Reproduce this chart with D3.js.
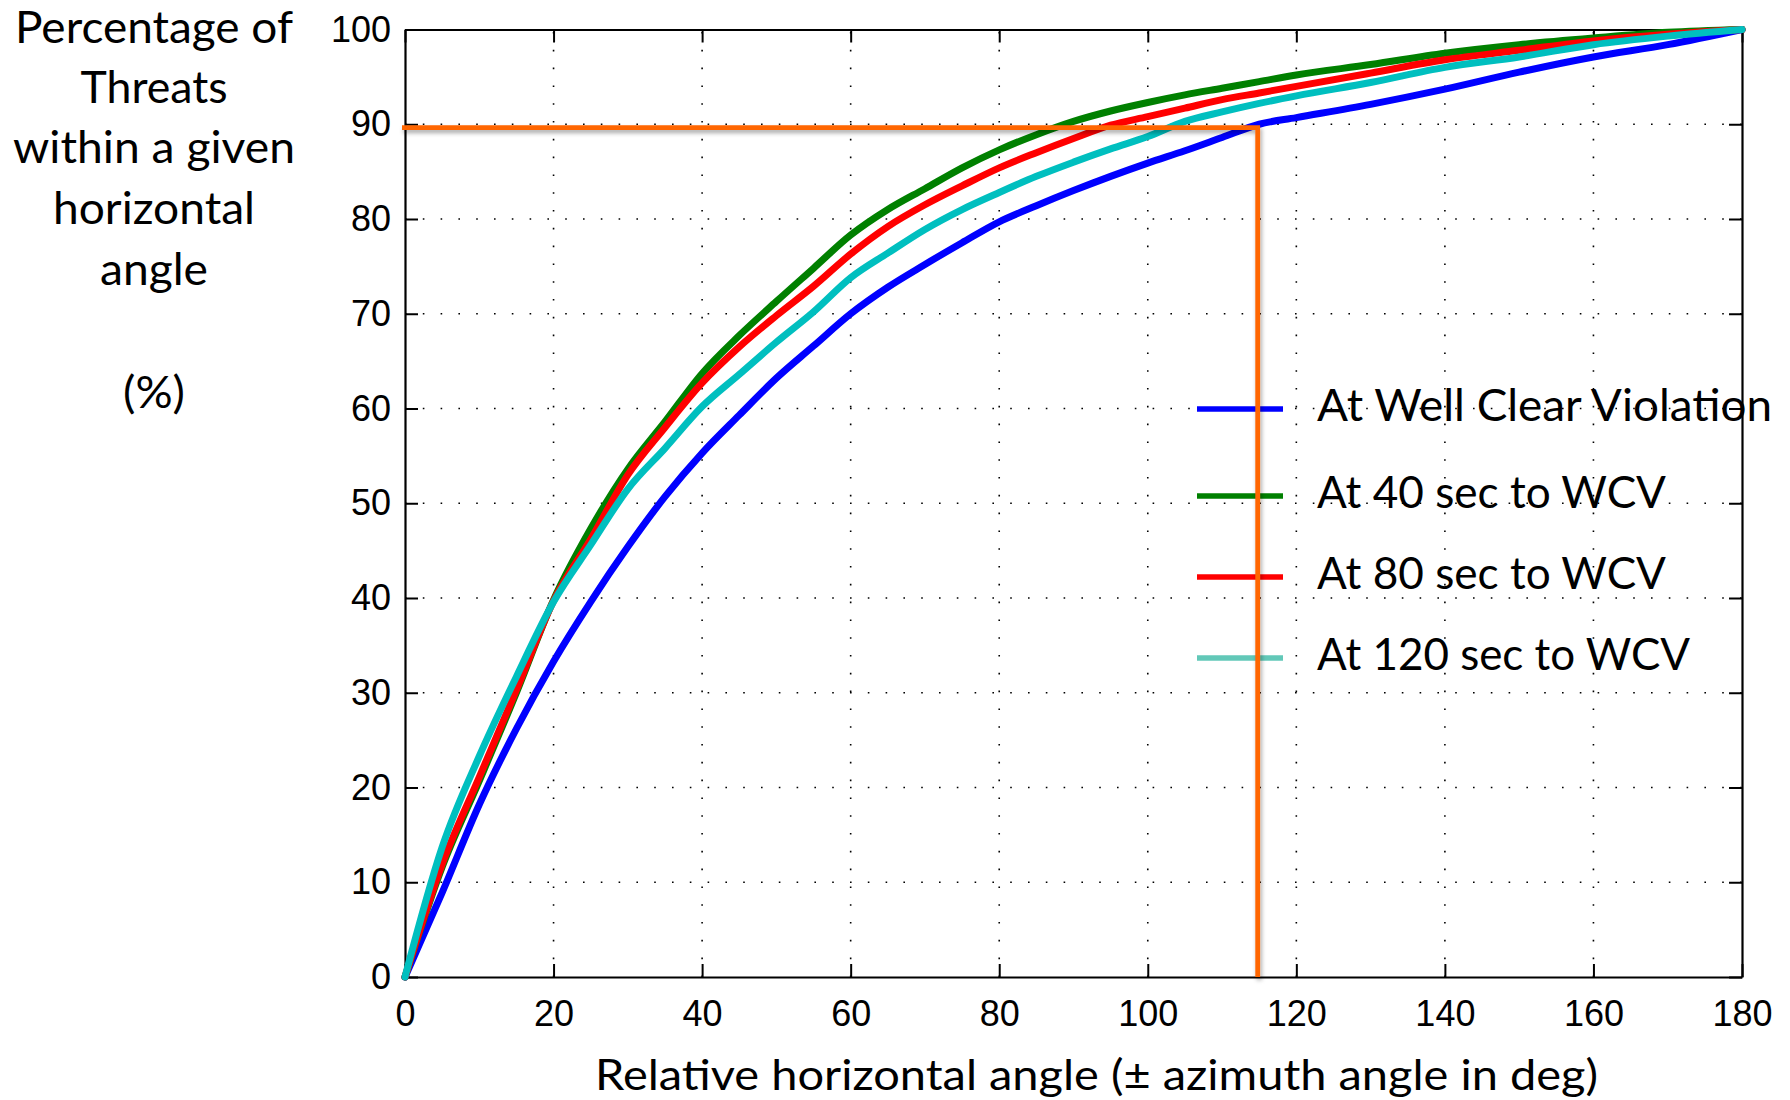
<!DOCTYPE html>
<html>
<head>
<meta charset="utf-8">
<script src="https://cdn.jsdelivr.net/npm/d3@7"></script>
<style>
html,body{margin:0;padding:0;background:#fff;}
svg{display:block;}
</style>
</head>
<body>
<svg id="chart" width="1790" height="1100"></svg>
<script>
// ---------- DATA ----------
const angles = [0,5,10,15,20,25,30,35,40,45,50,55,60,65,70,75,80,85,90,95,100,105,110,115,120,130,140,150,160,170,180];
const atWCV   = [0,8.9,18.2,26.2,33.3,39.6,45.4,50.7,55.3,59.3,63.2,66.6,70.0,72.8,75.2,77.5,79.7,81.4,83.0,84.5,85.9,87.2,88.6,90.0,90.7,92.1,93.7,95.5,97.1,98.4,100];
const at40sec = [0,11.6,20.7,30.0,39.8,47.3,53.6,58.6,63.7,67.7,71.3,74.8,78.3,81.0,83.2,85.4,87.3,88.9,90.3,91.4,92.3,93.1,93.8,94.5,95.2,96.3,97.5,98.4,99.1,99.7,100];
const at80sec = [0,11.9,21.1,30.3,39.7,46.2,53.0,58.0,62.7,66.5,69.8,72.9,76.3,79.2,81.5,83.5,85.4,87.0,88.5,89.9,90.8,91.7,92.6,93.3,94.0,95.4,96.8,97.8,98.8,99.5,100];
const at120sec= [0,13.7,23.3,31.7,39.6,45.6,51.5,55.8,60.2,63.6,67.0,70.2,73.8,76.4,78.9,81.0,82.8,84.5,86.0,87.4,88.7,90.3,91.3,92.2,93.0,94.4,96.0,97.1,98.4,99.3,100];
const seriesNames = ["At Well Clear Violation","At 40 sec to WCV","At 80 sec to WCV","At 120 sec to WCV"];
const seriesColors = ["#0000ff","#008000","#ff0000","#00bfbf"];
const legendColors = ["#0000ff","#008000","#ff0000","#62c8b8"];
const xTicks = [0,20,40,60,80,100,120,140,160,180];
const yTicks = [0,10,20,30,40,50,60,70,80,90,100];
const markerAngle = 114.8;   // orange guide: angle covering 90% at WCV
const markerPct = 89.65;
const yTitleLines = ["Percentage of","Threats","within a given","horizontal","angle","(%)"];
const xTitle = "Relative horizontal angle (\u00B1 azimuth angle in deg)";

// ---------- LAYOUT ----------
const svg = d3.select("#chart");
svg.append("rect").attr("width",1790).attr("height",1100).attr("fill","#fff");
const x = d3.scaleLinear().domain([0,180]).range([405,1742]);
const y = d3.scaleLinear().domain([0,100]).range([977,29.5]);
const tickFont = "'Liberation Sans', Arial, Helvetica, sans-serif";
const textFont = "Lato, 'Open Sans', sans-serif";

const defs = svg.append("defs");
const f = defs.append("filter").attr("id","shadow").attr("x","-5%").attr("y","-5%").attr("width","110%").attr("height","110%");
f.append("feDropShadow").attr("dx",1.5).attr("dy",3).attr("stdDeviation",2)
  .attr("flood-color","#000").attr("flood-opacity",0.35);

// grid
const grid = svg.append("g");
grid.selectAll("line.gx").data(xTicks.filter(d=>d>0&&d<180)).join("line")
  .attr("x1",d=>x(d)).attr("x2",d=>x(d)).attr("y1",y(0)).attr("y2",y(100))
  .attr("stroke","#000").attr("stroke-width",1.6).attr("stroke-dasharray","1.6 16.2");
grid.selectAll("line.gy").data(yTicks.filter(d=>d>0&&d<100)).join("line")
  .attr("y1",d=>y(d)).attr("y2",d=>y(d)).attr("x1",x(0)).attr("x2",x(180))
  .attr("stroke","#000").attr("stroke-width",1.6).attr("stroke-dasharray","1.6 16.2");

// axes
function styleAxis(g){
  g.selectAll("path.domain").attr("stroke","#000").attr("stroke-width",2.2);
  g.selectAll(".tick line").attr("stroke","#000").attr("stroke-width",2);
  g.selectAll(".tick text").attr("fill","#000").style("font-family",tickFont).style("font-size","36px");
}
svg.append("g").attr("transform",`translate(0,${y(0)})`)
  .call(d3.axisBottom(x).tickValues(xTicks).tickFormat(d3.format("d")).tickSize(-13).tickSizeOuter(0).tickPadding(23))
  .call(styleAxis);
svg.append("g").attr("transform",`translate(0,${y(100)})`)
  .call(d3.axisTop(x).tickValues(xTicks).tickFormat("").tickSize(-13).tickSizeOuter(0))
  .call(styleAxis);
svg.append("g").attr("transform",`translate(${x(0)},0)`)
  .call(d3.axisLeft(y).tickValues(yTicks).tickFormat(d3.format("d")).tickSize(-13).tickSizeOuter(0).tickPadding(14))
  .call(styleAxis);
svg.append("g").attr("transform",`translate(${x(180)},0)`)
  .call(d3.axisRight(y).tickValues(yTicks).tickFormat("").tickSize(-13).tickSizeOuter(0))
  .call(styleAxis);

// curves
const series = [atWCV, at40sec, at80sec, at120sec];
const line = d3.line().x(d=>x(d[0])).y(d=>y(d[1])).curve(d3.curveMonotoneX);
svg.append("g").selectAll("path").data(series).join("path")
  .attr("d",s=>line(angles.map((a,i)=>[a,s[i]])))
  .attr("fill","none").attr("stroke",(s,i)=>seriesColors[i])
  .attr("stroke-width",7).attr("stroke-linejoin","round").attr("stroke-linecap","round");

// legend
const legendY = [409,496,577,658];
const legendTextLen = [455,349,349,373];
const lg = svg.append("g");
lg.selectAll("line").data(seriesNames).join("line")
  .attr("x1",1197).attr("x2",1283).attr("y1",(d,i)=>legendY[i]).attr("y2",(d,i)=>legendY[i])
  .attr("stroke",(d,i)=>legendColors[i]).attr("stroke-width",5.5);
lg.selectAll("text").data(seriesNames).join("text")
  .attr("x",1317).attr("y",(d,i)=>legendY[i]+12)
  .attr("textLength",(d,i)=>legendTextLen[i]).attr("lengthAdjust","spacingAndGlyphs")
  .style("font-family",textFont).style("font-size","44px").attr("fill","#000")
  .text(d=>d);

// orange guide lines
const guide = [[0,markerPct],[markerAngle,markerPct],[markerAngle,0]];
svg.append("path")
  .attr("d",d3.line().x((d,i)=>x(d[0]) - (i===0?3:0)).y(d=>y(d[1]))(guide))
  .attr("fill","none").attr("stroke","#ff6600").attr("stroke-width",4.8)
  .attr("stroke-linejoin","miter").attr("filter","url(#shadow)");

// y title
const yBase = [43,103,163,224,285,408];
const yLen = [278,147,282,202,108,62];
svg.append("g").selectAll("text").data(yTitleLines).join("text")
  .attr("x",154).attr("y",(d,i)=>yBase[i]).attr("text-anchor","middle")
  .attr("textLength",(d,i)=>yLen[i]).attr("lengthAdjust","spacingAndGlyphs")
  .style("font-family",textFont).style("font-size","44px").attr("fill","#000")
  .text(d=>d);

// x title
svg.append("text").attr("x",595).attr("y",1090)
  .attr("textLength",1003).attr("lengthAdjust","spacingAndGlyphs")
  .style("font-family",textFont).style("font-size","42px").attr("fill","#000")
  .text(xTitle);
</script>
</body>
</html>
